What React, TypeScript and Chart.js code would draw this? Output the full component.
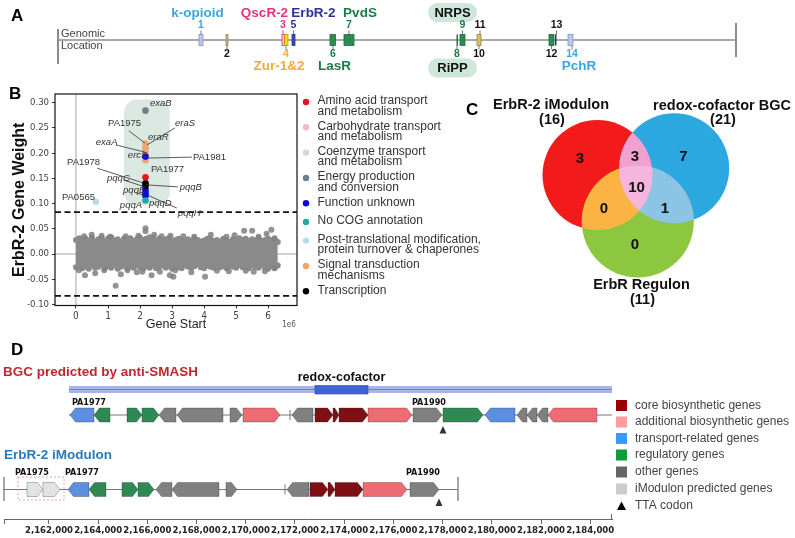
import React, { useEffect, useRef } from "react";
import { Chart, registerables } from "chart.js";

Chart.register(...registerables);

const SANS = "'Liberation Sans', Arial, Helvetica, sans-serif";
const NARROW = "'Liberation Sans Narrow', 'Arial Narrow', 'DejaVu Sans Condensed', 'Liberation Sans', sans-serif";

/* ================= Panel A : genomic locations ================= */
const GENOME_LENGTH = 6264404;
const locBoxStart = [1302770, 1552240, 2069650, 2092740, 2162040, 2513140, 2642500, 3681940, 3714280, 3871350, 4536600, 4592030, 4712150];
const locBoxEnd = [1339730, 1570720, 2092740, 2125080, 2189760, 2563960, 2734890, 3691180, 3760480, 3908310, 4582800, 4601270, 4758350];
const locBoxFill = ["#b9c9e6", "#c8b48e", "#f6c9d9", "#ffd21f", "#3b4db5", "#2f8a55", "#2f8a55", "#2f6e4a", "#2f8a55", "#d8bf6c", "#2f8a55", "#2e3192", "#b9c9e6"];
const locBoxStroke = ["#7f93bd", "#9c8660", "#e5317c", "#cc9a10", "#2e3192", "#1e6b3e", "#1e6b3e", "#1e5b3a", "#1e6b3e", "#9c8640", "#1e6b3e", "#2e3192", "#7f93bd"];
const locNum = ["1", "2", "3", "4", "5", "6", "7", "8", "9", "10", "11", "12", "13", "14"];
const locNumPos = [1321250, 1561480, 2078890, 2106600, 2175900, 2540860, 2688690, 3686560, 3737380, 3889830, 3899070, 4559700, 4605880, 4749100];
const locNumSide = ["top", "bottom", "top", "bottom", "top", "bottom", "top", "bottom", "top", "bottom", "top", "bottom", "top", "bottom"];
const locNumColor = ["#3aa7dc", "#111", "#e5317c", "#f2a93b", "#2e3192", "#1e7b4a", "#1e7b4a", "#1e7b4a", "#1e7b4a", "#111", "#111", "#111", "#111", "#3aa7dc"];
const locName = ["k-opioid", "QscR-2", "ErbR-2", "PvdS", "Zur-1&2", "LasR", "PchR"];
const locNamePos = [1288920, 1907940, 2360690, 2790330, 2041930, 2554720, 4813780];
const locNameSide = ["top", "top", "top", "top", "bottom", "bottom", "bottom"];
const locNameColor = ["#3aa7dc", "#e5317c", "#2e3192", "#1e7b4a", "#f2a93b", "#1e7b4a", "#3aa7dc"];
const bgcPillText = ["NRPS", "RiPP"];
const bgcPillPos = [3644950, 3644950];
const bgcPillSide = ["top", "bottom"];

/* ================= Panel B : ErbR-2 gene weights ================= */
const bXTicks = [0, 1, 2, 3, 4, 5, 6]; // ×1e6
const bYTicks = [-0.1, -0.05, 0, 0.05, 0.1, 0.15, 0.2, 0.25, 0.3];
const bandX = [0.0, 0.1, 0.2, 0.3, 0.4, 0.5, 0.6, 0.7, 0.8, 0.9, 1.0, 1.1, 1.2, 1.3, 1.4, 1.5, 1.6, 1.7, 1.8, 1.9, 2.0, 2.1, 2.2, 2.3, 2.4, 2.5, 2.6, 2.7, 2.8, 2.9, 3.0, 3.1, 3.2, 3.3, 3.4, 3.5, 3.6, 3.7, 3.8, 3.9, 4.0, 4.1, 4.2, 4.3, 4.4, 4.5, 4.6, 4.7, 4.8, 4.9, 5.0, 5.1, 5.2, 5.3, 5.4, 5.5, 5.6, 5.7, 5.8, 5.9, 6.0, 6.1, 6.2, 6.3];
const bandUpper = [0.028, 0.031, 0.026, 0.030, 0.027, 0.032, 0.025, 0.029, 0.031, 0.026, 0.030, 0.033, 0.027, 0.029, 0.025, 0.030, 0.028, 0.031, 0.026, 0.029, 0.032, 0.028, 0.030, 0.033, 0.031, 0.027, 0.030, 0.026, 0.029, 0.031, 0.025, 0.028, 0.030, 0.027, 0.024, 0.029, 0.026, 0.031, 0.028, 0.025, 0.027, 0.030, 0.029, 0.026, 0.028, 0.025, 0.030, 0.027, 0.024, 0.029, 0.027, 0.031, 0.028, 0.030, 0.026, 0.029, 0.027, 0.031, 0.026, 0.028, 0.030, 0.027, 0.029, 0.024];
const bandLower = [-0.026, -0.022, -0.028, -0.024, -0.029, -0.023, -0.027, -0.025, -0.021, -0.028, -0.024, -0.027, -0.022, -0.029, -0.025, -0.023, -0.028, -0.024, -0.027, -0.022, -0.026, -0.029, -0.024, -0.027, -0.023, -0.028, -0.025, -0.022, -0.027, -0.024, -0.029, -0.023, -0.026, -0.028, -0.022, -0.025, -0.027, -0.024, -0.021, -0.026, -0.028, -0.023, -0.025, -0.027, -0.022, -0.026, -0.024, -0.028, -0.023, -0.025, -0.027, -0.022, -0.026, -0.024, -0.028, -0.023, -0.025, -0.027, -0.022, -0.026, -0.029, -0.024, -0.027, -0.023];
const outlierX = [0.49, 1.06, 2.17, 2.17, 2.44, 2.67, 3.69, 4.21, 4.70, 5.25, 5.50, 5.70, 6.10, 6.20, 0.80, 1.55, 2.95, 3.35, 4.95, 5.95, 1.95, 0.25, 0.09, 0.28, 0.60, 0.88, 1.24, 1.61, 2.07, 2.36, 2.62, 2.93, 3.04, 3.10, 4.03, 4.40, 4.77, 5.30, 5.90, 6.20, 1.90, 3.60, 5.55, 1.40];
const outlierY = [0.038, 0.034, 0.051, 0.045, 0.038, 0.035, 0.034, 0.038, 0.034, 0.046, 0.046, 0.034, 0.048, 0.031, 0.036, 0.035, 0.036, 0.035, 0.037, 0.040, 0.036, 0.035, -0.032, -0.042, -0.038, -0.032, -0.063, -0.032, -0.035, -0.042, -0.035, -0.042, -0.045, -0.032, -0.045, -0.033, -0.034, -0.033, -0.034, -0.028, -0.036, -0.036, -0.035, -0.040];

const cogNames = [
  "Amino acid transport\nand metabolism",
  "Carbohydrate transport\nand metabolism",
  "Coenzyme transport\nand metabolism",
  "Energy production\nand conversion",
  "Function unknown",
  "No COG annotation",
  "Post-translational modification,\nprotein turnover & chaperones",
  "Signal transduction\nmechanisms",
  "Transcription",
];
const cogColors = ["#e8141c", "#f4b8c6", "#d6d6d6", "#6f7f8b", "#0a0ad8", "#20aaa2", "#b5dde8", "#f0a56a", "#000000"];
const cogX = [[2.17], [2.17], [2.17, 2.17], [2.17], [2.17, 2.17, 2.17, 2.17], [2.17], [0.62], [2.17, 2.17, 2.17, 2.17], [2.17, 2.17]];
const cogY = [[0.152], [0.198], [0.131, 0.111], [0.284], [0.193, 0.127, 0.121, 0.116], [0.106], [0.1036], [0.219, 0.211, 0.204, 0.186], [0.140, 0.135]];
const cogDrawOrder = [3, 8, 7, 2, 4, 1, 5, 6, 3];

const annText = ["exaB", "PA1975", "eraS", "eraR", "exaA", "ercS", "PA1981", "PA1977", "PA1978", "pqqC", "pqqB", "pqqE", "PA0565", "pqqA", "pqqD", "pqqH"];
const annItalic = [1, 0, 1, 1, 1, 1, 0, 0, 0, 1, 1, 1, 0, 1, 1, 1];
const annX = [2.31, 1.0, 3.09, 2.25, 0.62, 1.62, 3.65, 2.34, -0.28, 0.97, 3.24, 1.47, -0.44, 1.37, 2.28, 3.18];
const annY = [0.298, 0.259, 0.259, 0.232, 0.222, 0.196, 0.192, 0.168, 0.182, 0.15, 0.133, 0.127, 0.113, 0.097, 0.101, 0.081];
const leaderFromX = [1.65, 3.09, 1.25, 3.62, 0.66, 1.47, 3.18, 2.22, 1.85];
const leaderFromY = [0.244, 0.25, 0.216, 0.192, 0.17, 0.147, 0.133, 0.117, 0.122];
const leaderToX = [2.15, 2.22, 2.15, 2.22, 2.09, 2.15, 2.18, 3.15, 2.18];
const leaderToY = [0.22, 0.216, 0.202, 0.19, 0.141, 0.133, 0.137, 0.091, 0.115];
const THRESHOLD = 0.083;
const HILITE_X = [1.5, 2.93];
const HILITE_Y = [0.097, 0.306];

/* ================= Panel C : Venn ================= */
const vennNames = ["ErbR-2 iModulon", "redox-cofactor BGC", "ErbR Regulon"];
const vennSizes = [16, 21, 11];
const vennRegionLabels = ["3", "7", "0", "3", "0", "1", "10"]; // A, B, C, AB, AC, BC, ABC

/* ================= Panel D : gene clusters ================= */
const dTicks = [2162000, 2164000, 2166000, 2168000, 2170000, 2172000, 2174000, 2176000, 2178000, 2180000, 2182000, 2184000];
// [start, end, strand, type]
const bgcGenes = [
  [2162854, 2163829, -1, "transport"], [2163829, 2164480, -1, "regulatory"], [2165171, 2165780, 1, "regulatory"],
  [2165780, 2166472, 1, "regulatory"], [2166472, 2167163, -1, "other"], [2167203, 2169073, -1, "other"],
  [2169358, 2169845, 1, "other"], [2169886, 2171390, 1, "additional"], [2171878, 2172732, -1, "other"],
  [2172813, 2173545, 1, "core"], [2173545, 2173789, 1, "core"], [2173789, 2174967, 1, "core"],
  [2174967, 2176756, 1, "additional"], [2176797, 2177975, 1, "other"], [2178016, 2179642, 1, "regulatory"],
  [2179723, 2180943, -1, "transport"], [2181024, 2181431, -1, "other"], [2181431, 2181837, -1, "other"],
  [2181837, 2182284, -1, "other"], [2182284, 2184276, -1, "additional"],
];
const imodGenes = [
  [2161106, 2161756, 1, "imod"], [2161756, 2162447, 1, "imod"], [2162772, 2163626, -1, "transport"],
  [2163626, 2164317, -1, "regulatory"], [2164967, 2165618, 1, "regulatory"], [2165618, 2166268, 1, "regulatory"],
  [2166350, 2167000, -1, "other"], [2167000, 2168911, -1, "other"], [2169195, 2169642, 1, "other"],
  [2171675, 2172569, -1, "other"], [2172610, 2173341, 1, "core"], [2173341, 2173626, 1, "core"],
  [2173626, 2174764, 1, "core"], [2174764, 2176553, 1, "additional"], [2176675, 2177854, 1, "other"],
];
const bgcRegion = [2162813, 2184886];
const redoxRegion = [2172813, 2174967];
const imodRegion = [2160171, 2178626];
const imodPredictedBox = [2160740, 2162610];
const ttaPos = [2178016, 2177854];
const gapTickPos = [2171797, 2171593];
const bgcGeneLabels = ["PA1977", "PA1990"];
const bgcGeneLabelPos = [2162935, 2176756];
const imodGeneLabels = ["PA1975", "PA1977", "PA1990"];
const imodGeneLabelPos = [2160618, 2162650, 2176512];
const axisMin = 2160171;
const axisMax = 2184886;
const geneFill: any = { core: "#7d0f15", additional: "#ef6b73", transport: "#5c8fe0", regulatory: "#2e8a52", other: "#808080", imod: "#e3e3e3" };
const legendDNames = ["core biosynthetic genes", "additional biosynthetic genes", "transport-related genes", "regulatory genes", "other genes", "iModulon predicted genes", "TTA codon"];
const legendDColors = ["#990000", "#ff9c9c", "#3a9bff", "#0f9b3a", "#666666", "#cccccc", "#000000"];

/* ================= helpers ================= */
function rr(ctx: any, x: number, y: number, w: number, h: number, r: number) {
  ctx.beginPath();
  ctx.moveTo(x + r, y);
  ctx.lineTo(x + w - r, y);
  ctx.arcTo(x + w, y, x + w, y + r, r);
  ctx.lineTo(x + w, y + h - r);
  ctx.arcTo(x + w, y + h, x + w - r, y + h, r);
  ctx.lineTo(x + r, y + h);
  ctx.arcTo(x, y + h, x, y + h - r, r);
  ctx.lineTo(x, y + r);
  ctx.arcTo(x, y, x + r, y, r);
  ctx.closePath();
}
function seg(ctx: any, x1: number, y1: number, x2: number, y2: number) {
  ctx.beginPath();
  ctx.moveTo(x1, y1);
  ctx.lineTo(x2, y2);
  ctx.stroke();
}
function txt(ctx: any, s: string, x: number, y: number, font: string, color: string, align = "left") {
  ctx.font = font;
  ctx.fillStyle = color;
  ctx.textAlign = align;
  ctx.textBaseline = "middle";
  ctx.fillText(s, x, y);
}
function tri(ctx: any, cx: number, top: number, w: number, h: number, color: string) {
  ctx.fillStyle = color;
  ctx.beginPath();
  ctx.moveTo(cx, top);
  ctx.lineTo(cx + w / 2, top + h);
  ctx.lineTo(cx - w / 2, top + h);
  ctx.closePath();
  ctx.fill();
}
function geneArrow(ctx: any, x1: number, x2: number, cy: number, h: number, dir: number, fill: string) {
  const head = Math.min(5.5, (x2 - x1) * 0.7);
  const t = cy - h / 2;
  const b = cy + h / 2;
  ctx.beginPath();
  if (dir > 0) {
    ctx.moveTo(x1, t);
    ctx.lineTo(x2 - head, t);
    ctx.lineTo(x2, cy);
    ctx.lineTo(x2 - head, b);
    ctx.lineTo(x1, b);
  } else {
    ctx.moveTo(x2, t);
    ctx.lineTo(x1 + head, t);
    ctx.lineTo(x1, cy);
    ctx.lineTo(x1 + head, b);
    ctx.lineTo(x2, b);
  }
  ctx.closePath();
  ctx.fillStyle = fill;
  ctx.fill();
  ctx.strokeStyle = "rgba(40,40,40,0.45)";
  ctx.lineWidth = 0.7;
  ctx.stroke();
}

/* ================= drawing of panels A, B-legend, C ================= */
function drawPanelA(ctx: any) {
  const L = 58, R = 736, Y = 40;
  const gx = (bp: number) => L + (bp / GENOME_LENGTH) * (R - L);
  ctx.save();
  txt(ctx, "A", 11, 16, `bold 17px ${SANS}`, "#000");
  for (let i = 0; i < bgcPillText.length; i++) {
    const cx = gx(bgcPillPos[i]);
    const top = bgcPillSide[i] === "top" ? 3 : 58.5;
    ctx.fillStyle = "#cfe7da";
    rr(ctx, cx - 24.5, top, 49, 19, 9.5);
    ctx.fill();
    txt(ctx, bgcPillText[i], cx, top + 10, `bold 13px ${SANS}`, "#111", "center");
  }
  ctx.strokeStyle = "#8c8c8c";
  ctx.lineWidth = 1.6;
  seg(ctx, L, Y, R, Y);
  ctx.lineWidth = 2;
  seg(ctx, L, 29, L, 64);
  seg(ctx, R, 23, R, 57);
  txt(ctx, "Genomic", 61, 33.5, `11px ${SANS}`, "#444");
  txt(ctx, "Location", 61, 46, `11px ${SANS}`, "#444");
  for (let i = 0; i < locNum.length; i++) {
    const cx = gx(locNumPos[i]);
    ctx.strokeStyle = "#777";
    ctx.lineWidth = 1;
    if (locNumSide[i] === "top") {
      seg(ctx, cx, Y - 5, cx, Y - 9.5);
      txt(ctx, locNum[i], cx, 25, `bold 10.5px ${SANS}`, locNumColor[i], "center");
    } else {
      seg(ctx, cx, Y + 5, cx, Y + 9.5);
      txt(ctx, locNum[i], cx, 54.5, `bold 10.5px ${SANS}`, locNumColor[i], "center");
    }
  }
  for (let i = 0; i < locBoxStart.length; i++) {
    const x1 = gx(locBoxStart[i]);
    const w = Math.max(gx(locBoxEnd[i]) - x1, 1.5);
    ctx.fillStyle = locBoxFill[i];
    ctx.fillRect(x1, Y - 5.5, w, 11);
    if (w > 2) {
      ctx.strokeStyle = locBoxStroke[i];
      ctx.lineWidth = 0.8;
      ctx.strokeRect(x1, Y - 5.5, w, 11);
    }
  }
  for (let i = 0; i < locName.length; i++) {
    const cx = gx(locNamePos[i]);
    const y = locNameSide[i] === "top" ? 13.5 : 66;
    txt(ctx, locName[i], cx, y, `bold 13.5px ${SANS}`, locNameColor[i], "center");
  }
  ctx.restore();
}

function drawLegendB(ctx: any) {
  ctx.save();
  let y = 101;
  for (let i = 0; i < cogNames.length; i++) {
    const lines = cogNames[i].split("\n");
    ctx.fillStyle = cogColors[i];
    ctx.beginPath();
    ctx.arc(306, y + 1, 3.2, 0, Math.PI * 2);
    ctx.fill();
    lines.forEach((ln, k) => txt(ctx, ln, 317.5, y + k * 10.3, `12px ${SANS}`, "#333"));
    y += lines.length > 1 ? 25.3 : 18.7;
  }
  ctx.restore();
}

function drawVenn(ctx: any) {
  const A = { x: 597.5, y: 175, r: 55 };
  const B = { x: 674.2, y: 168.3, r: 55 };
  const C = { x: 637.8, y: 221.5, r: 56 };
  const circ = (c: any) => {
    ctx.beginPath();
    ctx.arc(c.x, c.y, c.r, 0, Math.PI * 2);
  };
  ctx.save();
  txt(ctx, "C", 466, 110, `bold 17px ${SANS}`, "#000");
  circ(A); ctx.fillStyle = "#f21a1a"; ctx.fill();
  circ(B); ctx.fillStyle = "#2ba8e0"; ctx.fill();
  circ(C); ctx.fillStyle = "#8dc63f"; ctx.fill();
  ctx.save(); circ(A); ctx.clip(); circ(B); ctx.fillStyle = "#f29fd2"; ctx.fill(); ctx.restore();
  ctx.save(); circ(A); ctx.clip(); circ(C); ctx.fillStyle = "#fbb444"; ctx.fill(); ctx.restore();
  ctx.save(); circ(B); ctx.clip(); circ(C); ctx.fillStyle = "#8cc4e6"; ctx.fill(); ctx.restore();
  ctx.save(); circ(A); ctx.clip(); circ(B); ctx.clip(); circ(C); ctx.fillStyle = "#f6b5dc"; ctx.fill(); ctx.restore();
  const pos = [[580, 158.5], [683.5, 157], [635, 244.5], [635, 157], [604, 208.5], [665, 208.5], [636.5, 188]];
  vennRegionLabels.forEach((s, i) => txt(ctx, s, pos[i][0], pos[i][1], `bold 15px ${SANS}`, "#111", "center"));
  const lab = [[551, 105], [722, 105.5], [641.5, 285]];
  for (let i = 0; i < 3; i++) {
    txt(ctx, vennNames[i], lab[i][0], lab[i][1], `bold 14.5px ${SANS}`, "#111", "center");
    txt(ctx, `(${vennSizes[i]})`, lab[i][0] + 1, lab[i][1] + 14.5, `bold 14.5px ${SANS}`, "#111", "center");
  }
  ctx.restore();
}

/* ================= chart 1 (panel B) ================= */
const mainPlugin = {
  id: "mainDecor",
  beforeDatasetsDraw(chart: any) {
    const { ctx, chartArea: ca } = chart;
    const x = chart.scales.x, y = chart.scales.y;
    ctx.save();
    const hx1 = x.getPixelForValue(HILITE_X[0] * 1e6);
    const hx2 = x.getPixelForValue(HILITE_X[1] * 1e6);
    const hy1 = y.getPixelForValue(HILITE_Y[1]);
    const hy2 = y.getPixelForValue(HILITE_Y[0]);
    ctx.fillStyle = "#dbe8e1";
    rr(ctx, hx1, hy1, hx2 - hx1, hy2 - hy1, 13);
    ctx.fill();
    ctx.strokeStyle = "#9a9a9a";
    ctx.lineWidth = 0.9;
    const x0 = x.getPixelForValue(0);
    seg(ctx, x0, ca.top, x0, ca.bottom);
    const y0 = y.getPixelForValue(0);
    seg(ctx, ca.left, y0, ca.right, y0);
    ctx.restore();
  },
  afterDatasetsDraw(chart: any) {
    const { ctx, chartArea: ca } = chart;
    const x = chart.scales.x, y = chart.scales.y;
    ctx.save();
    ctx.strokeStyle = "#111";
    ctx.lineWidth = 1.8;
    ctx.setLineDash([6, 3.5]);
    [THRESHOLD, -THRESHOLD].forEach((t) => {
      const py = y.getPixelForValue(t);
      seg(ctx, ca.left, py, ca.right, py);
    });
    ctx.setLineDash([]);
    ctx.strokeStyle = "#333";
    ctx.lineWidth = 0.8;
    for (let i = 0; i < leaderFromX.length; i++) {
      seg(ctx, x.getPixelForValue(leaderFromX[i] * 1e6), y.getPixelForValue(leaderFromY[i]), x.getPixelForValue(leaderToX[i] * 1e6), y.getPixelForValue(leaderToY[i]));
    }
    for (let i = 0; i < annText.length; i++) {
      txt(ctx, annText[i], x.getPixelForValue(annX[i] * 1e6), y.getPixelForValue(annY[i]), `${annItalic[i] ? "italic " : ""}9.5px ${SANS}`, "#333");
    }
    ctx.strokeStyle = "#111";
    ctx.lineWidth = 1.2;
    ctx.strokeRect(ca.left, ca.top, ca.right - ca.left, ca.bottom - ca.top);
    ctx.restore();
  },
  afterDraw(chart: any) {
    const ctx = chart.ctx;
    const ca = chart.chartArea;
    ctx.save();
    txt(ctx, "B", 9, 94, `bold 17px ${SANS}`, "#000");
    txt(ctx, "1e6", ca.right - 8, 325, `8px ${NARROW}`, "#555", "center");
    ctx.restore();
    drawPanelA(ctx);
    drawLegendB(ctx);
    drawVenn(ctx);
  },
};

function buildMainConfig(): any {
  const GRAY = "#8a8a8a";
  const datasets: any[] = [];
  datasets.push({
    type: "line",
    data: bandX.map((v, i) => ({ x: v * 1e6, y: bandUpper[i] })),
    borderColor: GRAY,
    borderWidth: 3,
    backgroundColor: GRAY,
    pointRadius: 3,
    pointBackgroundColor: GRAY,
    pointBorderWidth: 0,
    fill: "+1",
    tension: 0,
    order: 20,
  });
  datasets.push({
    type: "line",
    data: bandX.map((v, i) => ({ x: v * 1e6, y: bandLower[i] })),
    borderColor: GRAY,
    borderWidth: 3,
    pointRadius: 3,
    pointBackgroundColor: GRAY,
    pointBorderWidth: 0,
    fill: false,
    tension: 0,
    order: 19,
  });
  datasets.push({
    type: "scatter",
    data: outlierX.map((v, i) => ({ x: v * 1e6, y: outlierY[i] })),
    backgroundColor: "rgba(128,128,128,0.85)",
    borderWidth: 0,
    pointRadius: 3,
    order: 18,
  });
  cogNames.forEach((name, i) => {
    datasets.push({
      type: "scatter",
      label: name,
      data: cogX[i].map((v, k) => ({ x: v * 1e6, y: cogY[i][k] })),
      backgroundColor: cogColors[i],
      borderColor: cogColors[i],
      borderWidth: 0,
      pointRadius: 3.3,
      order: cogDrawOrder[i],
    });
  });
  return {
    type: "scatter",
    data: { datasets },
    options: {
      animation: false,
      responsive: false,
      maintainAspectRatio: false,
      layout: { padding: { left: 10, right: 498, top: 94, bottom: 200.5 } },
      plugins: { legend: { display: false }, tooltip: { enabled: false } },
      scales: {
        x: {
          type: "linear",
          bounds: "data",
          min: -0.655e6,
          max: 6.9e6,
          afterFit: (s: any) => { s.height = 32; },
          afterBuildTicks: (s: any) => { s.ticks = bXTicks.map((v) => ({ value: v * 1e6 })); },
          ticks: {
            autoSkip: false,
            maxRotation: 0,
            callback: (v: any) => String(Math.round(Number(v) / 1e6)),
            font: { family: NARROW, size: 10 },
            color: "#444",
            padding: 2,
          },
          grid: { display: true, drawOnChartArea: false, drawTicks: true, tickLength: 3, color: "#333" },
          border: { display: false },
          title: { display: true, text: "Gene Start", font: { family: SANS, size: 12.5 }, color: "#222", padding: { top: 0, bottom: 5 } },
        },
        y: {
          type: "linear",
          bounds: "data",
          min: -0.102,
          max: 0.317,
          afterFit: (s: any) => { s.width = 45; },
          afterBuildTicks: (s: any) => { s.ticks = bYTicks.map((v) => ({ value: v })); },
          ticks: {
            autoSkip: false,
            callback: (v: any) => Number(v).toFixed(2),
            font: { family: NARROW, size: 9.5 },
            color: "#444",
            padding: 3,
          },
          grid: { display: true, drawOnChartArea: false, drawTicks: true, tickLength: 3, color: "#333" },
          border: { display: false },
          title: { display: true, text: "ErbR-2 Gene Weight", font: { family: SANS, size: 16, weight: "bold" }, color: "#111", padding: { top: 0, bottom: 0 } },
        },
      },
    },
    plugins: [mainPlugin],
  };
}

/* ================= chart 2 (panel D) ================= */
const panelDPlugin = {
  id: "panelD",
  afterDraw(chart: any) {
    const ctx = chart.ctx;
    const xs = chart.scales.x;
    const px = (bp: number) => xs.getPixelForValue(bp);
    const ROW1 = 415, ROW2 = 489.5, GH = 14;
    ctx.save();
    txt(ctx, "D", 11, 350, `bold 17px ${SANS}`, "#000");
    txt(ctx, "BGC predicted by anti-SMASH", 3, 372, `bold 13.5px ${SANS}`, "#c1272d");
    txt(ctx, "ErbR-2 iModulon", 4, 455, `bold 13.5px ${SANS}`, "#2a7ab9");

    const bx1 = px(bgcRegion[0]), bx2 = px(bgcRegion[1]);
    ctx.fillStyle = "#a4b6ea";
    ctx.fillRect(bx1, 386, bx2 - bx1, 7);
    ctx.strokeStyle = "#7384c0";
    ctx.lineWidth = 1;
    seg(ctx, bx1, 389.5, bx2, 389.5);
    const rx1 = px(redoxRegion[0]), rx2 = px(redoxRegion[1]);
    ctx.fillStyle = "#4064d8";
    ctx.fillRect(rx1, 385.5, rx2 - rx1, 8.5);
    ctx.strokeStyle = "#2a48a8";
    ctx.lineWidth = 0.6;
    ctx.strokeRect(rx1, 385.5, rx2 - rx1, 8.5);
    txt(ctx, "redox-cofactor", (rx1 + rx2) / 2, 377.5, `bold 12.5px ${SANS}`, "#111", "center");

    ctx.strokeStyle = "#777";
    ctx.lineWidth = 1;
    seg(ctx, bx1, ROW1, bx2, ROW1);
    seg(ctx, px(gapTickPos[0]), ROW1 - 5, px(gapTickPos[0]), ROW1 + 5);
    bgcGenes.forEach((g: any) => geneArrow(ctx, px(g[0]), px(g[1]), ROW1, GH, g[2], geneFill[g[3]]));
    bgcGeneLabels.forEach((s, i) => txt(ctx, s, px(bgcGeneLabelPos[i]), 403, `bold 9px ${NARROW}`, "#111"));
    tri(ctx, px(ttaPos[0]), 426, 7, 7.5, "#333");

    const ix1 = px(imodRegion[0]), ix2 = px(imodRegion[1]);
    ctx.strokeStyle = "#777";
    ctx.lineWidth = 1;
    seg(ctx, ix1, ROW2, ix2, ROW2);
    ctx.lineWidth = 1.3;
    seg(ctx, ix1, 477, ix1, 501);
    seg(ctx, ix2, 477, ix2, 501);
    ctx.lineWidth = 1;
    seg(ctx, px(gapTickPos[1]), ROW2 - 5, px(gapTickPos[1]), ROW2 + 5);
    imodGenes.forEach((g: any) => geneArrow(ctx, px(g[0]), px(g[1]), ROW2, GH, g[2], geneFill[g[3]]));
    const dx1 = px(imodPredictedBox[0]), dx2 = px(imodPredictedBox[1]);
    ctx.strokeStyle = "#e88a8a";
    ctx.lineWidth = 0.8;
    ctx.setLineDash([2, 2]);
    ctx.strokeRect(dx1, 477, dx2 - dx1, 23);
    ctx.setLineDash([]);
    imodGeneLabels.forEach((s, i) => txt(ctx, s, px(imodGeneLabelPos[i]), 473, `bold 9px ${NARROW}`, "#111"));
    tri(ctx, px(ttaPos[1]), 498.5, 7, 7.5, "#333");

    ctx.strokeStyle = "#666";
    ctx.lineWidth = 1;
    seg(ctx, px(axisMin) + 0.5, 519, px(axisMin) + 0.5, 524);
    seg(ctx, px(axisMax) - 0.5, 514, px(axisMax) - 0.5, 519);

    const ly = [405.5, 422, 438.5, 455, 472, 489, 506];
    legendDNames.forEach((s, i) => {
      if (i === legendDNames.length - 1) {
        tri(ctx, 621.5, ly[i] - 4.5, 9, 8.5, legendDColors[i]);
      } else {
        ctx.fillStyle = legendDColors[i];
        ctx.fillRect(616, ly[i] - 5.5, 11, 11);
      }
      txt(ctx, s, 635, ly[i], `12px ${SANS}`, "#444");
    });
    ctx.restore();
  },
};

function buildDConfig(): any {
  return {
    type: "scatter",
    data: { datasets: [{ data: [], pointRadius: 0 }] },
    options: {
      animation: false,
      responsive: false,
      maintainAspectRatio: false,
      layout: { padding: { left: 4, right: 183, top: 300, bottom: 0 } },
      plugins: { legend: { display: false }, tooltip: { enabled: false } },
      scales: {
        x: {
          type: "linear",
          bounds: "data",
          min: axisMin,
          max: axisMax,
          afterFit: (s: any) => { s.height = 19; },
          afterBuildTicks: (s: any) => { s.ticks = dTicks.map((v) => ({ value: v })); },
          ticks: {
            autoSkip: false,
            maxRotation: 0,
            callback: (v: any) => Number(v).toLocaleString("en-US"),
            font: { family: NARROW, size: 9.5, weight: "bold" },
            color: "#222",
            padding: 1,
          },
          grid: { display: true, drawOnChartArea: false, drawTicks: true, tickLength: 5, color: "#666" },
          border: { display: true, color: "#666", width: 1 },
        },
        y: { display: false, min: 0, max: 1 },
      },
    },
    plugins: [panelDPlugin],
  };
}

export default function App() {
  const ref1 = useRef<HTMLCanvasElement>(null);
  const ref2 = useRef<HTMLCanvasElement>(null);
  useEffect(() => {
    const c1 = new Chart(ref1.current as HTMLCanvasElement, buildMainConfig());
    const c2 = new Chart(ref2.current as HTMLCanvasElement, buildDConfig());
    return () => {
      c1.destroy();
      c2.destroy();
    };
  }, []);
  return (
    <div style={{ position: "absolute", left: 0, top: 0, width: 795, height: 538, background: "#fff", overflow: "hidden" }}>
      <canvas ref={ref1} width={795} height={538} style={{ position: "absolute", left: 0, top: 0, width: 795, height: 538 }} />
      <canvas ref={ref2} width={795} height={538} style={{ position: "absolute", left: 0, top: 0, width: 795, height: 538, pointerEvents: "none" }} />
    </div>
  );
}
